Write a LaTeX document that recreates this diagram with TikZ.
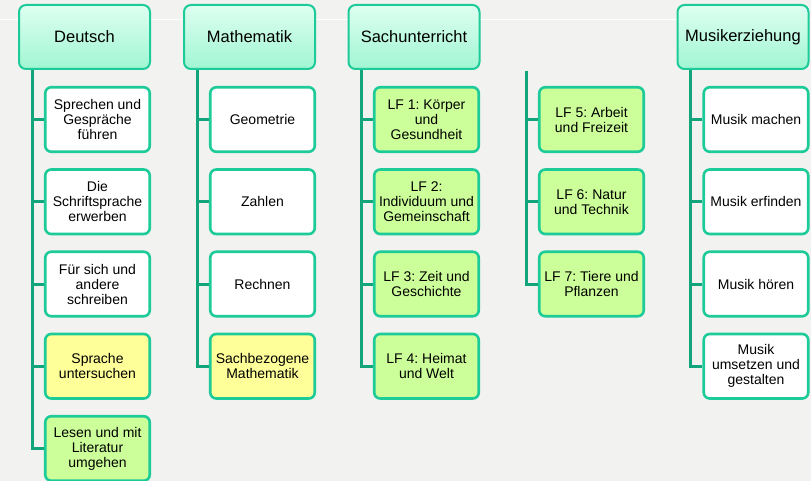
\documentclass[tikz,border=0pt]{standalone}
\usepackage{fontspec}
\setmainfont{Liberation Sans}
\usepackage{tikz}
\usetikzlibrary{positioning}
\definecolor{bgColor}{HTML}{F2F2F0}
\definecolor{edgeColor}{HTML}{1CCB98}
\definecolor{stemColor}{HTML}{12A47A}
\definecolor{headTopColor}{HTML}{DEFFF1}
\definecolor{headBottomColor}{HTML}{A0F6D3}
\definecolor{yellowColor}{HTML}{FFFF99}
\definecolor{greenColor}{HTML}{CCFF99}
\frenchspacing
\tikzset{
  head/.style={draw=edgeColor, line width=2pt, rounded corners=7pt,
    top color=headTopColor, bottom color=headBottomColor,
    minimum width=131pt, minimum height=64pt, inner sep=0pt,
    font=\fontsize{16.5}{18}\selectfont},
  topic/.style={draw=edgeColor, line width=2.6pt, rounded corners=6pt, fill=white,
    minimum width=104.5pt, minimum height=64.5pt, inner sep=0pt, align=center,
    font=\fontsize{14}{15}\selectfont},
  stem/.style={draw=stemColor, line width=3pt}
}

\begin{document}
\begin{tikzpicture}[x=1pt,y=-1pt]
  \fill[bgColor] (0,0) rectangle (811,481);
  \useasboundingbox (0,0) rectangle (811,481);
  \draw[white, line width=0.8pt] (0,19) -- (811,19);

  \node[head] (deutsch) at (84.5,37) {Deutsch};
  \node[head] (mathe) at (249.5,37) {Mathematik};
  \node[head] (sach) at (414,37) {Sachunterricht};
  \node[head] (musik) at (743,37) {Musikerziehung};

  \node[topic] (d1) at (97.5,119.5) {Sprechen und\\Gespräche\\führen};
  \node[topic] (d2) at (97.5,201.75) {Die\\Schriftsprache\\erwerben};
  \node[topic] (d3) at (97.5,284) {Für sich und\\andere\\schreiben};
  \node[topic, fill=yellowColor] (d4) at (97.5,366.25) {Sprache\\untersuchen};
  \node[topic, fill=greenColor] (d5) at (97.5,448.5) {Lesen und mit\\Literatur\\umgehen};

  \node[topic] (m1) at (262.5,119.5) {Geometrie};
  \node[topic] (m2) at (262.5,201.75) {Zahlen};
  \node[topic] (m3) at (262.5,284) {Rechnen};
  \node[topic, fill=yellowColor] (m4) at (262.5,366.25) {Sachbezogene\\Mathematik};

  \node[topic, fill=greenColor] (s1) at (426.5,119.5) {LF 1: Körper\\und\\Gesundheit};
  \node[topic, fill=greenColor] (s2) at (426.5,201.75) {LF 2:\\Individuum und\\Gemeinschaft};
  \node[topic, fill=greenColor] (s3) at (426.5,284) {LF 3: Zeit und\\Geschichte};
  \node[topic, fill=greenColor] (s4) at (426.5,366.25) {LF 4: Heimat\\und Welt};
  \node[topic, fill=greenColor] (s5) at (591.5,119.5) {LF 5: Arbeit\\und Freizeit};
  \node[topic, fill=greenColor] (s6) at (591.5,201.75) {LF 6: Natur\\und Technik};
  \node[topic, fill=greenColor] (s7) at (591.5,284) {LF 7: Tiere und\\Pflanzen};

  \node[topic] (mu1) at (756,119.5) {Musik machen};
  \node[topic] (mu2) at (756,201.75) {Musik erfinden};
  \node[topic] (mu3) at (756,284) {Musik hören};
  \node[topic] (mu4) at (756,366.25) {Musik\\umsetzen und\\gestalten};

  \coordinate (dstem) at ([xshift=14pt]deutsch.south west);
  \coordinate (mstem) at ([xshift=14pt]mathe.south west);
  \coordinate (sstem) at ([xshift=14pt]sach.south west);
  \coordinate (tstem) at (526,71);
  \coordinate (mustem) at ([xshift=14pt]musik.south west);

  \draw[stem] (dstem) |- (d5.west);
  \foreach \n in {d1,d2,d3,d4}
    \draw[stem] (dstem |- \n.west) -- (\n.west);
  \draw[stem] (mstem) |- (m4.west);
  \foreach \n in {m1,m2,m3}
    \draw[stem] (mstem |- \n.west) -- (\n.west);
  \draw[stem] (sstem) |- (s4.west);
  \foreach \n in {s1,s2,s3}
    \draw[stem] (sstem |- \n.west) -- (\n.west);
  \draw[stem] (tstem) |- (s7.west);
  \foreach \n in {s5,s6}
    \draw[stem] (tstem |- \n.west) -- (\n.west);
  \draw[stem] (mustem) |- (mu4.west);
  \foreach \n in {mu1,mu2,mu3}
    \draw[stem] (mustem |- \n.west) -- (\n.west);
\end{tikzpicture}
\end{document}
